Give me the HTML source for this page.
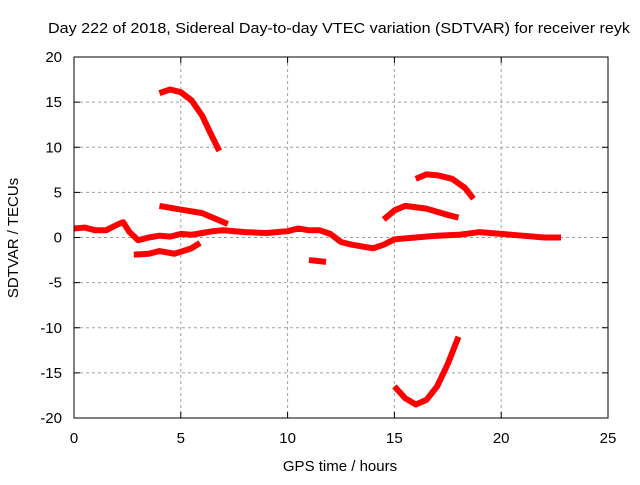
<!DOCTYPE html>
<html><head><meta charset="utf-8"><style>
body{margin:0;background:#fff}
svg text{font-family:"Liberation Sans",sans-serif;font-size:14px;fill:#000}
</style></head><body>
<svg id="chart" width="640" height="480" xmlns="http://www.w3.org/2000/svg">
<rect width="640" height="480" fill="#fff"/>
<text x="48" y="33" textLength="582" lengthAdjust="spacingAndGlyphs" style="font-size:15px">Day 222 of 2018, Sidereal Day-to-day VTEC variation (SDTVAR) for receiver reyk</text>
<text x="340" y="471" text-anchor="middle" style="font-size:15px">GPS time / hours</text>
<text transform="translate(18,238) rotate(-90)" text-anchor="middle" style="font-size:15px">SDTVAR / TECUs</text>
<g id="grid"></g><g id="ticks"></g><g id="series"></g>
<rect x="74" y="57" width="534" height="361" fill="none" stroke="#000" stroke-width="1"/>
</svg>
<script>
const xTicks=[0,5,10,15,20,25];
const yTicks=[20,15,10,5,0,-5,-10,-15,-20];
const trackMain=[[0,1],[0.5,1.1],[1,0.8],[1.5,0.8],[2,1.4],[2.3,1.7],[2.6,0.6],[3,-0.3],[3.5,0],[4,0.2],[4.5,0.1],[5,0.4],[5.5,0.3],[6,0.5],[6.5,0.7],[7,0.8],[8,0.6],[9,0.5],[10,0.7],[10.5,1.0],[11,0.8],[11.5,0.8],[12,0.4],[12.5,-0.5],[13,-0.8],[14,-1.2],[14.5,-0.8],[15,-0.2],[16,0],[17,0.2],[18,0.3],[19,0.6],[20,0.4],[21,0.2],[22,0],[22.8,0]];
const trackHigh=[[4,16],[4.5,16.4],[5,16.1],[5.5,15.2],[6,13.5],[6.4,11.5],[6.8,9.6]];
const trackMid=[[4,3.5],[5,3.1],[6,2.7],[6.8,1.9],[7.2,1.5]];
const trackLowA=[[2.8,-1.9],[3.5,-1.8],[4,-1.5],[4.7,-1.8],[5.5,-1.2],[5.9,-0.6]];
const trackLowB=[[11,-2.5],[11.8,-2.7]];
const trackEve1=[[14.5,2],[15,3],[15.5,3.5],[16.5,3.2],[17.5,2.5],[18,2.2]];
const trackEve2=[[16,6.5],[16.5,7],[17,6.9],[17.7,6.5],[18.3,5.5],[18.7,4.3]];
const trackNeg=[[15,-16.5],[15.5,-17.8],[16,-18.5],[16.5,-18],[17,-16.5],[17.5,-14],[18,-11]];
const tracks=[trackMain,trackHigh,trackMid,trackLowA,trackLowB,trackEve1,trackEve2,trackNeg];
const NS="http://www.w3.org/2000/svg";
const X=v=>74+v*534/25, Y=v=>237.5-v*361/40;
const grid=document.getElementById('grid'),ticks=document.getElementById('ticks'),ser=document.getElementById('series');
function mk(t,a,p){const e=document.createElementNS(NS,t);for(const k in a)e.setAttribute(k,a[k]);p.appendChild(e);return e;}
xTicks.forEach(v=>{
 if(v>0&&v<25){const g=mk('line',{x1:X(v),x2:X(v),y1:57,y2:418,stroke:'#a0a0a0','stroke-dasharray':'3,3'},grid);
 
 }
 const t=mk('text',{x:X(v),y:443,'text-anchor':'middle',style:'font-size:15px'},ticks);t.textContent=v;
 
 
 mk('line',{x1:X(v),x2:X(v),y1:418,y2:412,stroke:'#000'},ticks);
 mk('line',{x1:X(v),x2:X(v),y1:57,y2:63,stroke:'#000'},ticks);
});
yTicks.forEach(v=>{
 if(v>-20&&v<20){const g=mk('line',{x1:74,x2:608,y1:Y(v),y2:Y(v),stroke:'#a0a0a0','stroke-dasharray':'3,3'},grid);
 
 }
 const t=mk('text',{x:62,y:Y(v)+5,'text-anchor':'end',style:'font-size:15px'},ticks);t.textContent=v;
 
 
 mk('line',{x1:74,x2:80,y1:Y(v),y2:Y(v),stroke:'#000'},ticks);
 mk('line',{x1:602,x2:608,y1:Y(v),y2:Y(v),stroke:'#000'},ticks);
});
tracks.forEach(tr=>{
 const p=mk('polyline',{points:tr.map(d=>X(d[0])+','+Y(d[1])).join(' '),fill:'none',stroke:'#f00','stroke-width':6,'stroke-linejoin':'round'},ser);
 
 
});
</script>
</body></html>
